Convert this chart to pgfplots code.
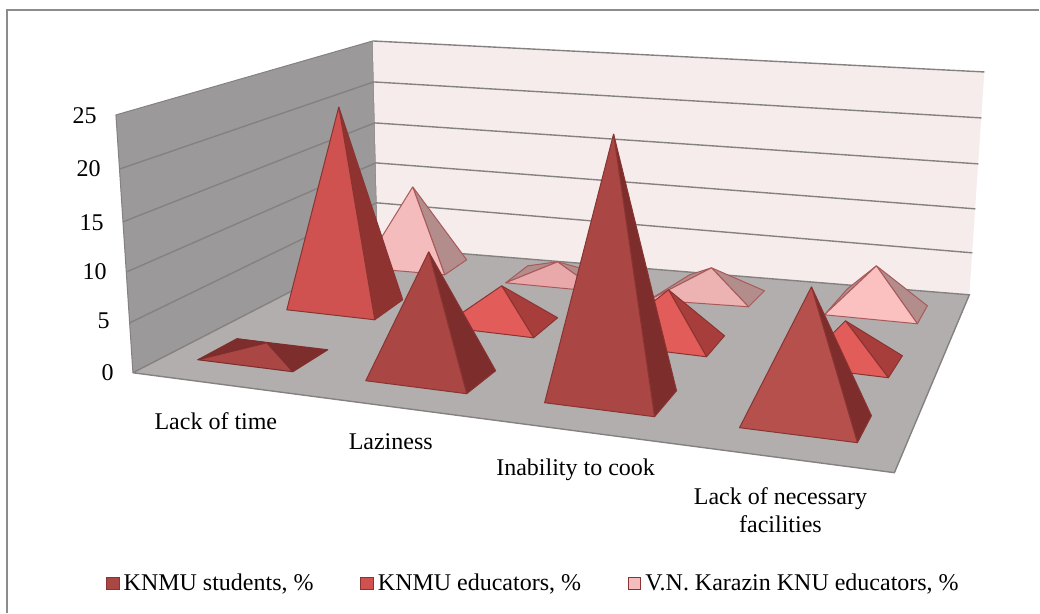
\documentclass[border=0pt]{standalone}
\usepackage{pgfplots}
\pgfplotsset{compat=1.18}
\usepackage{fontspec}
\setmainfont{Liberation Serif}
% coordinates are image pixels of the 3-D projection (y downwards)
\definecolor{wallL}{HTML}{9B9999}
\definecolor{wallB}{HTML}{F7ECEC}
\definecolor{floorc}{HTML}{B2AEAE}
\definecolor{gridc}{HTML}{858181}
\definecolor{frontS}{HTML}{AA4644}
\definecolor{frontSb}{HTML}{B5504D}
\definecolor{sideS}{HTML}{7C2D2C}
\definecolor{frontE}{HTML}{CF5250}
\definecolor{frontEb}{HTML}{E25C59}
\definecolor{sideE}{HTML}{8F3331}
\definecolor{sideEb}{HTML}{A83E3C}
\definecolor{frontK}{HTML}{F4BCBC}
\definecolor{frontKa}{HTML}{E9A9AA}
\definecolor{frontKc}{HTML}{EDB3B3}
\definecolor{frontKb}{HTML}{FBC0C0}
\definecolor{sideK}{HTML}{B38C8C}
\definecolor{edgeS}{HTML}{8A3432}
\definecolor{edgeK}{HTML}{A85A5A}
\pgfplotsset{
  face/.style n args={2}{fill=#1,draw=#2,line width=0.5pt,line join=round,no markers,forget plot},
}
\tikzset{lab/.style={font=\fontsize{12}{14}\selectfont,inner sep=0pt,text=black}}
\begin{document}
\begin{tikzpicture}
\begin{axis}[
    scale only axis,
    width=520pt,height=306.5pt,
    xmin=0,xmax=1040,ymin=0,ymax=613,
    y dir=reverse,
    hide axis,
    clip=false,
    legend columns=3,
    legend cell align=left,
    legend image code/.code={\draw[#1,line width=0.5pt] (0pt,-3.2pt) rectangle (6.4pt,3.2pt);},
    legend style={draw=none,fill=none,at={(axis cs:106,584)},anchor=west,
      inner sep=0pt,outer sep=0pt,font=\fontsize{12}{14}\selectfont,
      /tikz/every even column/.append style={column sep=21.3pt}},
  ]
% keep the whole page in the picture
\path (axis cs:0,0) (axis cs:1040,613);
% frame (cropped at right and bottom)
\addplot[draw=black!45,line width=0.7pt,forget plot] coordinates {(1040,10) (7,10) (7,613)};
% walls and floor
\addplot[face={wallL}{gridc}] coordinates {(116,115) (373,41) (378,250) (133,373) (116,115)};
\addplot[fill=wallB,draw=none,no markers,forget plot] coordinates {(373,41) (985,72) (970,295) (378,247) (373,41)};
\addplot[fill=floorc,draw=gridc,line width=0.7pt,no markers,forget plot] coordinates {(133,373) (378,247) (970,295) (895,473) (133,373)};
% gridlines
\addplot[draw=gridc,line width=0.7pt,forget plot] coordinates {(373,41) (985,72)};
\addplot[draw=gridc,line width=0.7pt,forget plot] coordinates {(120,169) (374,82) (982,118)};
\addplot[draw=gridc,line width=0.7pt,forget plot] coordinates {(123,222) (375,123) (979,164)};
\addplot[draw=gridc,line width=0.7pt,forget plot] coordinates {(127,272) (376,163) (976,209)};
\addplot[draw=gridc,line width=0.7pt,forget plot] coordinates {(130,323) (377,203) (973,253)};
% V.N. Karazin KNU educators
\addplot[face={sideK}{edgeK}] coordinates {(413,187) (445,275) (467,260) (413,187)};
\addplot[face={frontK}{edgeK}] coordinates {(413,187) (363,268) (445,275) (413,187)};
\addplot[face={sideK}{edgeK}] coordinates {(558,262) (506,283) (528,266) (558,262)};
\addplot[face={sideK}{edgeK}] coordinates {(558,262) (600,292) (616,278) (558,262)};
\addplot[face={frontKa}{edgeK}] coordinates {(558,262) (506,283) (600,292) (558,262)};
\addplot[face={sideK}{edgeK}] coordinates {(712,268) (650,300) (690,275) (712,268)};
\addplot[face={sideK}{edgeK}] coordinates {(712,268) (749,307) (765,291) (712,268)};
\addplot[face={frontKc}{edgeK}] coordinates {(712,268) (650,300) (749,307) (712,268)};
\addplot[face={sideK}{edgeK}] coordinates {(877,266) (825,315) (848,289) (877,266)};
\addplot[face={sideK}{edgeK}] coordinates {(877,266) (918,324) (928,306) (877,266)};
\addplot[face={frontKb}{edgeK}] coordinates {(877,266) (825,315) (918,324) (877,266)};
% KNMU educators
\addplot[face={sideE}{edgeS}] coordinates {(339,107) (375,320) (403,300) (339,107)};
\addplot[face={frontE}{edgeS}] coordinates {(339,107) (287,310) (375,320) (339,107)};
\addplot[face={sideEb}{edgeS}] coordinates {(502,286) (534,338) (558,318) (502,286)};
\addplot[face={frontEb}{edgeS}] coordinates {(502,286) (442,327) (534,338) (502,286)};
\addplot[face={sideEb}{edgeS}] coordinates {(669,290) (707,357) (725,336) (669,290)};
\addplot[face={frontEb}{edgeS}] coordinates {(669,290) (600,344) (707,357) (669,290)};
\addplot[face={sideEb}{edgeS}] coordinates {(846,321) (889,378) (903,356) (846,321)};
\addplot[face={frontEb}{edgeS}] coordinates {(846,321) (800,367) (889,378) (846,321)};
% KNMU students
\addplot[face={sideS}{sideS}] coordinates {(267,343) (198,360) (237,339) (267,343)};
\addplot[face={sideS}{sideS}] coordinates {(267,343) (293,372) (328,350) (237,339) (267,343)};
\addplot[face={frontS}{sideS}] coordinates {(267,343) (198,360) (293,372) (267,343)};
\addplot[face={sideS}{edgeS}] coordinates {(429,252) (467,394) (496,371) (429,252)};
\addplot[face={frontS}{edgeS}] coordinates {(429,252) (366,381) (467,394) (429,252)};
\addplot[face={sideS}{edgeS}] coordinates {(614,134) (655,417) (677,391) (614,134)};
\addplot[face={frontS}{edgeS}] coordinates {(614,134) (545,403) (655,417) (614,134)};
\addplot[face={sideS}{edgeS}] coordinates {(812,287) (858,443) (872,416) (812,287)};
\addplot[face={frontSb}{edgeS}] coordinates {(812,287) (740,428) (858,443) (812,287)};
% value axis labels
\node[lab,anchor=east] at (axis cs:97,116) {25};
\node[lab,anchor=east] at (axis cs:101,169) {20};
\node[lab,anchor=east] at (axis cs:104,223) {15};
\node[lab,anchor=east] at (axis cs:107,272) {10};
\node[lab,anchor=east] at (axis cs:110,321) {5};
\node[lab,anchor=east] at (axis cs:114,373) {0};
% category labels
\node[lab] at (axis cs:216,421) {Lack of time};
\node[lab] at (axis cs:391,442) {Laziness};
\node[lab] at (axis cs:576,470) {Inability to cook};
\node[lab,align=center] at (axis cs:781,511) {Lack of necessary\\facilities};
% legend
\addlegendimage{fill=frontS,draw=edgeS}
\addlegendentry{KNMU students, \%}
\addlegendimage{fill=frontE,draw=edgeS}
\addlegendentry{KNMU educators, \%}
\addlegendimage{fill=frontK,draw=edgeS}
\addlegendentry{V.N. Karazin KNU educators, \%}
\end{axis}
\end{tikzpicture}
\end{document}
